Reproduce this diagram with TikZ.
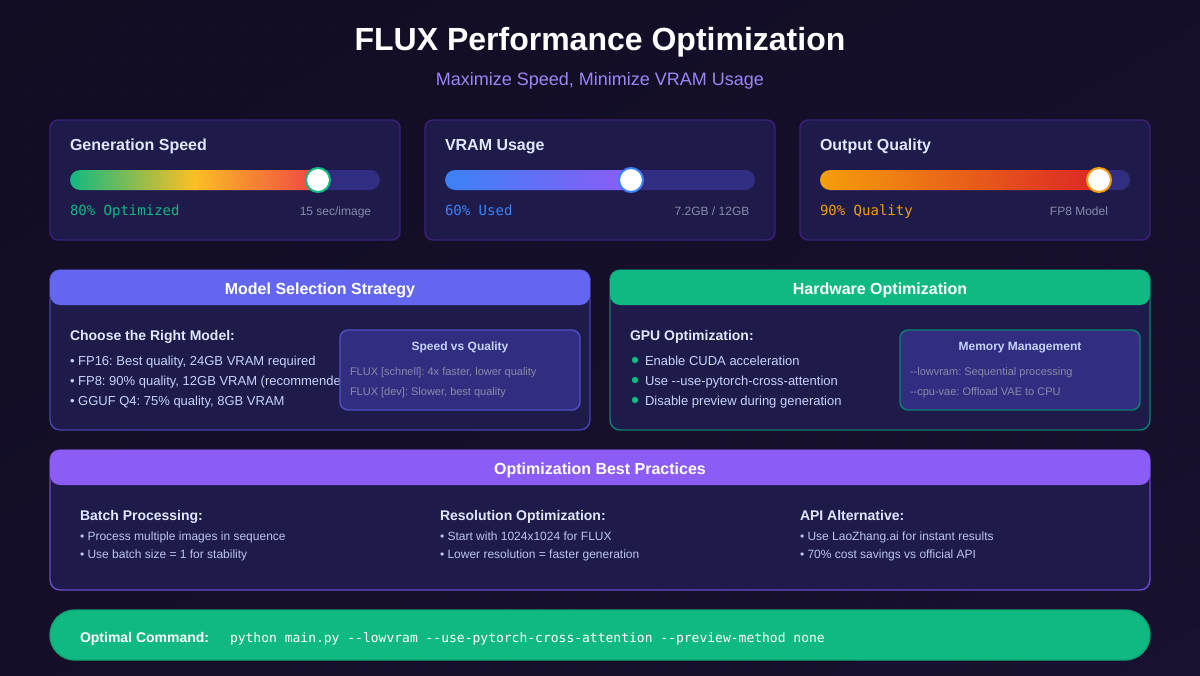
\documentclass[tikz,border=0pt]{standalone}
\usepackage{fontspec}
\setmainfont{Liberation Sans}
\newfontfamily\monof{DejaVu Sans Mono}
\usetikzlibrary{calc}
\frenchspacing
\pgfdeclarefunctionalshading{diagbg}{\pgfpoint{0bp}{0bp}}{\pgfpoint{100bp}{100bp}}{}{
 100 exch sub add 200 div
 dup 0.051 mul 0.055 add exch
 dup 0.043 mul 0.035 add exch
 0.102 mul 0.110 add
}
\definecolor{gridc}{HTML}{8B5CF6}
\definecolor{card}{HTML}{1E1B4B}
\definecolor{cardb}{HTML}{3B1F7A}
\definecolor{track}{HTML}{312E81}
\definecolor{head}{HTML}{E0E7FF}
\definecolor{bodyt}{HTML}{C7D2FE}
\definecolor{smallt}{HTML}{BCC4EE}
\definecolor{mut}{HTML}{8A8AA8}
\definecolor{indigo}{HTML}{6366F1}
\definecolor{indigob}{HTML}{4644B0}
\definecolor{green}{HTML}{10B981}
\definecolor{greenb}{HTML}{0E7C6E}
\definecolor{violet}{HTML}{8B5CF6}
\definecolor{violetb}{HTML}{6D48C8}
\definecolor{grn2}{HTML}{0EA673}
\definecolor{yel}{HTML}{FBBF24}
\definecolor{redc}{HTML}{EF4444}
\definecolor{blu}{HTML}{3B82F6}
\definecolor{amber}{HTML}{F59E0B}
\definecolor{red2}{HTML}{DC2626}
\definecolor{purp}{HTML}{9F84F6}
\tikzset{
 x=0.75pt,y=-0.75pt,
 txt/.style={inner sep=0pt,outer sep=0pt,anchor=base west},
 cardbox/.style={draw=cardb,line width=1.1pt,fill=card,rounded corners=6pt},
 panel/.style={line width=1.1pt,fill=card,rounded corners=7.5pt},
 header/.style={rounded corners=7.5pt},
 inset/.style={line width=1.1pt,fill=track,rounded corners=6pt},
 knob/.style={circle,fill=white,line width=1.5pt,minimum size=18pt,inner sep=0pt},
 ttl/.style={txt,text=head,font=\bfseries\fontsize{12}{14}\selectfont},
 metric/.style={txt,font=\monof\fontsize{10.5}{12}\selectfont},
 note/.style={inner sep=0pt,anchor=base,text=mut,font=\fontsize{9}{11}\selectfont},
 hdr/.style={inner sep=0pt,anchor=base,text=white,font=\bfseries\fontsize{12}{14}\selectfont},
 sub/.style={txt,text=head,font=\bfseries\fontsize{10.5}{12}\selectfont},
 item/.style={txt,text=bodyt,font=\fontsize{9.75}{12}\selectfont},
 smallitem/.style={txt,text=smallt,font=\fontsize{9}{11}\selectfont},
 insett/.style={inner sep=0pt,anchor=base,text=bodyt,font=\bfseries\fontsize{9}{11}\selectfont},
 insetn/.style={txt,text=mut,font=\fontsize{8.25}{10}\selectfont},
 dot/.style={circle,fill=green,minimum size=4.8pt,inner sep=0pt},
}
\begin{document}
\begin{tikzpicture}
\useasboundingbox (0,0) rectangle (1200,675);
\shade[shading=diagbg] (-6,-6) rectangle (1206,681);
\foreach \gx in {30,60,...,1170} \draw[gridc,opacity=0.014,line width=0.4pt] (\gx,0) -- (\gx,675);
\foreach \gy in {30,60,...,660} \draw[gridc,opacity=0.014,line width=0.4pt] (0,\gy) -- (1200,\gy);
% title
\node[inner sep=0pt,anchor=base,text=white,font=\bfseries\fontsize{24}{28}\selectfont] (title) at (600,50) {FLUX Performance Optimization};
\node[inner sep=0pt,anchor=base,text=purp,font=\fontsize{13.5}{16}\selectfont] (subt) at (600,85) {Maximize Speed, Minimize VRAM Usage};
% cards
\draw[cardbox] (50,120) rectangle (400,240);
\draw[cardbox] (425,120) rectangle (775,240);
\draw[cardbox] (800,120) rectangle (1150,240);
\node[ttl] (c1) at (70,150) {Generation Speed};
\node[ttl] (c2) at (445,150) {VRAM Usage};
\node[ttl] (c3) at (820,150) {Output Quality};
% tracks
\fill[track,rounded corners=7.5pt] (70,170) rectangle (380,190);
\fill[track,rounded corners=7.5pt] (445,170) rectangle (755,190);
\fill[track,rounded corners=7.5pt] (820,170) rectangle (1130,190);
\begin{scope}
\clip[rounded corners=7.5pt] (70,170) rectangle (330,190);
\fill[left color=green,right color=yel] (70,170) rectangle (194,190);
\fill[left color=yel,right color=redc] (194,170) rectangle (318,190);
\end{scope}
\begin{scope}
\clip[rounded corners=7.5pt] (445,170) rectangle (640,190);
\fill[left color=blu,right color=violet] (445,170) rectangle (631,190);
\end{scope}
\begin{scope}
\clip[rounded corners=7.5pt] (820,170) rectangle (1110,190);
\fill[left color=amber,right color=red2] (820,170) rectangle (1099,190);
\end{scope}
\node[knob,draw=green] (k1) at (318,180) {};
\node[knob,draw=blu] (k2) at (631,180) {};
\node[knob,draw=amber] (k3) at (1099,180) {};
\node[metric,text=green] (m1) at (70,215) {80\% Optimized};
\node[metric,text=blu] (m2) at (445,215) {60\% Used};
\node[metric,text=amber] (m3) at (820,215) {90\% Quality};
\node[note] (n1) at (335.5,215) {15 sec/image};
\node[note] (n2) at (712,215) {7.2GB / 12GB};
\node[note] (n3) at (1079,215) {FP8 Model};
% model panel
\draw[panel,draw=indigob] (50,270) rectangle (590,430);
\fill[indigo,header] (50,270) rectangle (590,305);
\node[hdr] (h1) at (320,294) {Model Selection Strategy};
\node[sub] (s1) at (70,340) {Choose the Right Model:};
\node[item] (i1) at (70,365) {• FP16: Best quality, 24GB VRAM required};
\node[item] (i2) at (70,385) {• FP8: 90\% quality, 12GB VRAM (recommended)};
\node[item] (i3) at (70,405) {• GGUF Q4: 75\% quality, 8GB VRAM};
\draw[inset,draw=indigob!70!indigo] (340,330) rectangle (580,410);
\node[insett] (t1) at (460,350) {Speed vs Quality};
\node[insetn] (a1) at (350,375) {FLUX [schnell]: 4x faster, lower quality};
\node[insetn] (a2) at (350,395) {FLUX [dev]: Slower, best quality};
% hardware panel
\draw[panel,draw=greenb] (610,270) rectangle (1150,430);
\fill[green,header] (610,270) rectangle (1150,305);
\node[hdr] (h2) at (880,294) {Hardware Optimization};
\node[sub] (s2) at (630,340) {GPU Optimization:};
\node[dot] (d1) at (635,360) {};
\node[dot] (d2) at (635,380) {};
\node[dot] (d3) at (635,400) {};
\node[item] (j1) at (645,365) {Enable CUDA acceleration};
\node[item] (j2) at (645,385) {Use -{}-use-pytorch-cross-attention};
\node[item] (j3) at (645,405) {Disable preview during generation};
\draw[inset,draw=greenb] (900,330) rectangle (1140,410);
\node[insett] (t2) at (1020,350) {Memory Management};
\node[insetn] (b1) at (910,375) {-{}-lowvram: Sequential processing};
\node[insetn] (b2) at (910,395) {-{}-cpu-vae: Offload VAE to CPU};
% best practices
\draw[panel,draw=violetb] (50,450) rectangle (1150,590);
\fill[violet,header] (50,450) rectangle (1150,485);
\node[hdr] (h3) at (600,474) {Optimization Best Practices};
\node[sub] (p1) at (80,520) {Batch Processing:};
\node[smallitem] (p11) at (80,540) {• Process multiple images in sequence};
\node[smallitem] (p12) at (80,558) {• Use batch size = 1 for stability};
\node[sub] (p2) at (440,520) {Resolution Optimization:};
\node[smallitem] (p21) at (440,540) {• Start with 1024x1024 for FLUX};
\node[smallitem] (p22) at (440,558) {• Lower resolution = faster generation};
\node[sub] (p3) at (800,520) {API Alternative:};
\node[smallitem] (p31) at (800,540) {• Use LaoZhang.ai for instant results};
\node[smallitem] (p32) at (800,558) {• 70\% cost savings vs official API};
% command
\draw[draw=grn2,fill=green,line width=1.1pt,rounded corners=18.75pt] (50,610) rectangle (1150,660);
\node[txt,text=white,font=\bfseries\fontsize{10.5}{12}\selectfont] (cmd) at (80,642) {Optimal Command:};
\node[txt,text=white,font=\monof\fontsize{9.75}{12}\selectfont] (cmdt) at (230,642) {python main.py --lowvram --use-pytorch-cross-attention --preview-method none};
\end{tikzpicture}
\end{document}
